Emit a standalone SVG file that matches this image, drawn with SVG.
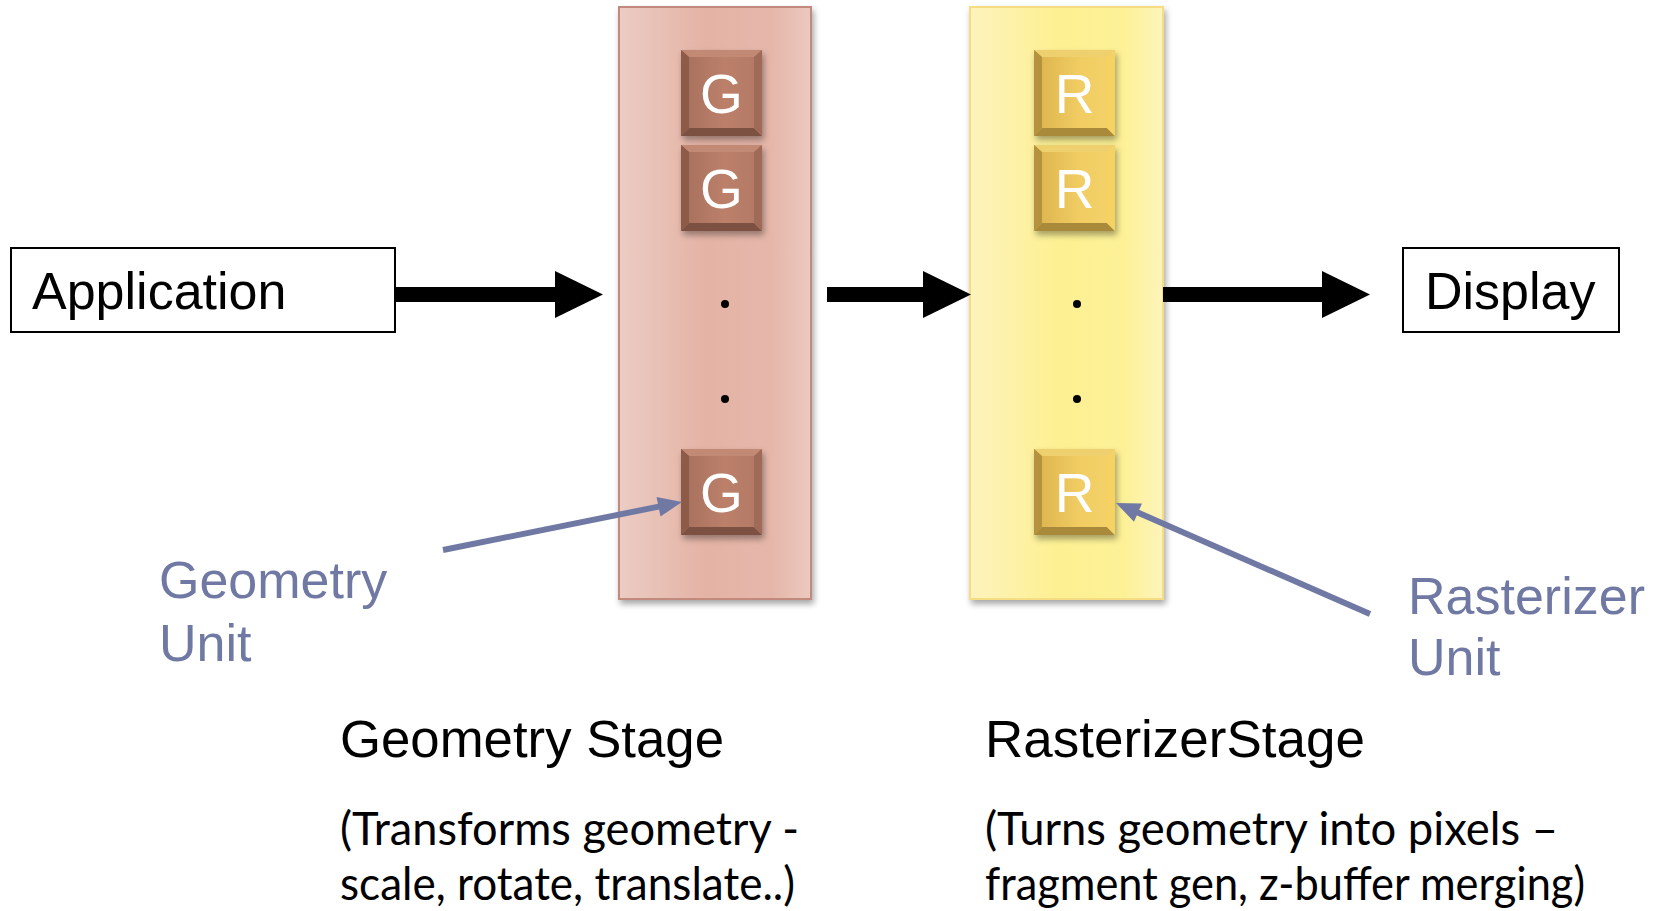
<svg xmlns="http://www.w3.org/2000/svg" xmlns:xlink="http://www.w3.org/1999/xlink" width="1665" height="911" viewBox="0 0 1665 911">
  <style>
    .box { fill: #ffffff; stroke: #000000; stroke-width: 2; }
    .boxtext { font-family: "Liberation Sans", Arial, sans-serif; font-size: 52px; fill: #000000; }
    .unit { font-family: "Liberation Sans", Arial, sans-serif; font-size: 55px; fill: #ffffff; text-anchor: middle; }
    .callout { font-family: "Liberation Sans", Arial, sans-serif; font-size: 52px; fill: #7079a3; }
    .heading { font-family: "Liberation Sans", Arial, sans-serif; font-size: 51px; fill: #000000; }
    .note { font-family: Lato, "Open Sans", sans-serif; font-size: 47px; fill: #000000; }
    .flow { fill: #000000; }
    .pointer { stroke: #7079a3; stroke-width: 6; fill: none; }
    .pointerhead { fill: #7079a3; }
    .dot { fill: #000000; }
  </style>
  <defs>
    <filter id="shadow" x="-20%" y="-20%" width="140%" height="140%">
      <feDropShadow dx="2" dy="4" stdDeviation="3" flood-color="#000000" flood-opacity="0.35"/>
    </filter>
    <linearGradient id="geoCol" x1="0" y1="0" x2="1" y2="0">
      <stop offset="0" stop-color="#ecccc3"/>
      <stop offset="0.45" stop-color="#e4b3a5"/>
      <stop offset="0.8" stop-color="#e5b7aa"/>
      <stop offset="1" stop-color="#ecc9bf"/>
    </linearGradient>
    <linearGradient id="rasCol" x1="0" y1="0" x2="1" y2="0">
      <stop offset="0" stop-color="#fdf3bd"/>
      <stop offset="0.45" stop-color="#fdf092"/>
      <stop offset="0.8" stop-color="#fdf197"/>
      <stop offset="1" stop-color="#fdf4bb"/>
    </linearGradient>
    <linearGradient id="gFace" x1="0" y1="0" x2="1" y2="0">
      <stop offset="0" stop-color="#a56f5d"/>
      <stop offset="0.55" stop-color="#bc806a"/>
      <stop offset="1" stop-color="#b27864"/>
    </linearGradient>
    <linearGradient id="rFace" x1="0" y1="0" x2="1" y2="0">
      <stop offset="0" stop-color="#dcb24c"/>
      <stop offset="0.55" stop-color="#f0cc62"/>
      <stop offset="1" stop-color="#f5d36a"/>
    </linearGradient>
    <!-- bevelled unit tiles, 81 x 86 -->
    <g id="gTile">
      <rect x="0" y="0" width="81" height="86" fill="url(#gFace)"/>
      <polygon points="0,0 81,0 73,7 8,7" fill="#c28a74"/>
      <polygon points="0,0 8,7 8,78 0,86" fill="#8c5b4a"/>
      <polygon points="0,86 8,78 73,78 81,86" fill="#7d5142"/>
      <polygon points="81,0 81,86 73,78 73,7" fill="#a06b58"/>
    </g>
    <g id="rTile">
      <rect x="0" y="0" width="81" height="86" fill="url(#rFace)"/>
      <polygon points="0,0 81,0 73,7 8,7" fill="#efd06e"/>
      <polygon points="0,0 8,7 8,78 0,86" fill="#b5923e"/>
      <polygon points="0,86 8,78 73,78 81,86" fill="#a98a3a"/>
      <polygon points="81,0 81,86 73,78 73,7" fill="#f6d264"/>
    </g>
  </defs>

  <rect x="0" y="0" width="1665" height="911" fill="#ffffff"/>

  <!-- Application node -->
  <g id="application">
    <rect class="box" x="11" y="248" width="384" height="84"/>
    <text class="boxtext" x="32" y="309">Application</text>
  </g>

  <!-- Geometry stage column with its units -->
  <g id="geometry-stage">
    <rect x="619" y="7" width="192" height="592" fill="url(#geoCol)" stroke="#c28a7b" stroke-width="2" filter="url(#shadow)"/>
    <g id="geometry-unit-1" filter="url(#shadow)">
      <use xlink:href="#gTile" x="681" y="50"/>
      <text class="unit" x="721.5" y="113">G</text>
    </g>
    <g id="geometry-unit-2" filter="url(#shadow)">
      <use xlink:href="#gTile" x="681" y="145"/>
      <text class="unit" x="721.5" y="208">G</text>
    </g>
    <circle class="dot" cx="725" cy="304" r="4"/>
    <circle class="dot" cx="725" cy="399" r="4"/>
    <g id="geometry-unit-n" filter="url(#shadow)">
      <use xlink:href="#gTile" x="681" y="449"/>
      <text class="unit" x="721.5" y="512">G</text>
    </g>
  </g>

  <!-- Rasterizer stage column with its units -->
  <g id="rasterizer-stage">
    <rect x="970" y="7" width="193" height="592" fill="url(#rasCol)" stroke="#f6dc82" stroke-width="2" filter="url(#shadow)"/>
    <g id="rasterizer-unit-1" filter="url(#shadow)">
      <use xlink:href="#rTile" x="1034" y="50"/>
      <text class="unit" x="1074.5" y="113">R</text>
    </g>
    <g id="rasterizer-unit-2" filter="url(#shadow)">
      <use xlink:href="#rTile" x="1034" y="145"/>
      <text class="unit" x="1074.5" y="208">R</text>
    </g>
    <circle class="dot" cx="1077" cy="304" r="4"/>
    <circle class="dot" cx="1077" cy="399" r="4"/>
    <g id="rasterizer-unit-n" filter="url(#shadow)">
      <use xlink:href="#rTile" x="1034" y="449"/>
      <text class="unit" x="1074.5" y="512">R</text>
    </g>
  </g>

  <!-- Display node -->
  <g id="display">
    <rect class="box" x="1403" y="248" width="216" height="84"/>
    <text class="boxtext" x="1425" y="309">Display</text>
  </g>

  <!-- Pipeline flow arrows and unit pointers -->
  <g id="connectors">
    <rect class="flow" x="395" y="287" width="162" height="15"/>
    <polygon class="flow" points="555,271 603,294.5 555,318"/>
    <rect class="flow" x="827" y="287" width="98" height="15"/>
    <polygon class="flow" points="923,271 971,294.5 923,318"/>
    <rect class="flow" x="1163" y="287" width="161" height="15"/>
    <polygon class="flow" points="1322,271 1370,294.5 1322,318"/>

    <line class="pointer" x1="443" y1="550" x2="660" y2="506.4"/>
    <polygon class="pointerhead" points="682,502 660.5,516.5 656.5,496.9"/>
    <line class="pointer" x1="1370" y1="614" x2="1136" y2="511.8"/>
    <polygon class="pointerhead" points="1116,503 1142,503.4 1134,521.8"/>
  </g>

  <!-- Unit callouts -->
  <g id="geometry-unit-label">
    <text class="callout" x="159" y="598">Geometry</text>
    <text class="callout" x="159" y="661">Unit</text>
  </g>
  <g id="rasterizer-unit-label">
    <text class="callout" x="1408" y="614">Rasterizer</text>
    <text class="callout" x="1408" y="675">Unit</text>
  </g>

  <!-- Stage descriptions -->
  <g id="geometry-stage-caption">
    <text class="heading" x="340" y="757" textLength="384" lengthAdjust="spacingAndGlyphs">Geometry Stage</text>
    <text class="note" x="340" y="845" textLength="459" lengthAdjust="spacingAndGlyphs">(Transforms geometry -</text>
    <text class="note" x="340" y="900" textLength="455" lengthAdjust="spacingAndGlyphs">scale, rotate, translate..)</text>
  </g>
  <g id="rasterizer-stage-caption">
    <text class="heading" x="985" y="757" textLength="380" lengthAdjust="spacingAndGlyphs">RasterizerStage</text>
    <text class="note" x="985" y="845" textLength="573" lengthAdjust="spacingAndGlyphs">(Turns geometry into pixels –</text>
    <text class="note" x="985" y="900" textLength="600" lengthAdjust="spacingAndGlyphs">fragment gen, z-buffer merging)</text>
  </g>
</svg>
